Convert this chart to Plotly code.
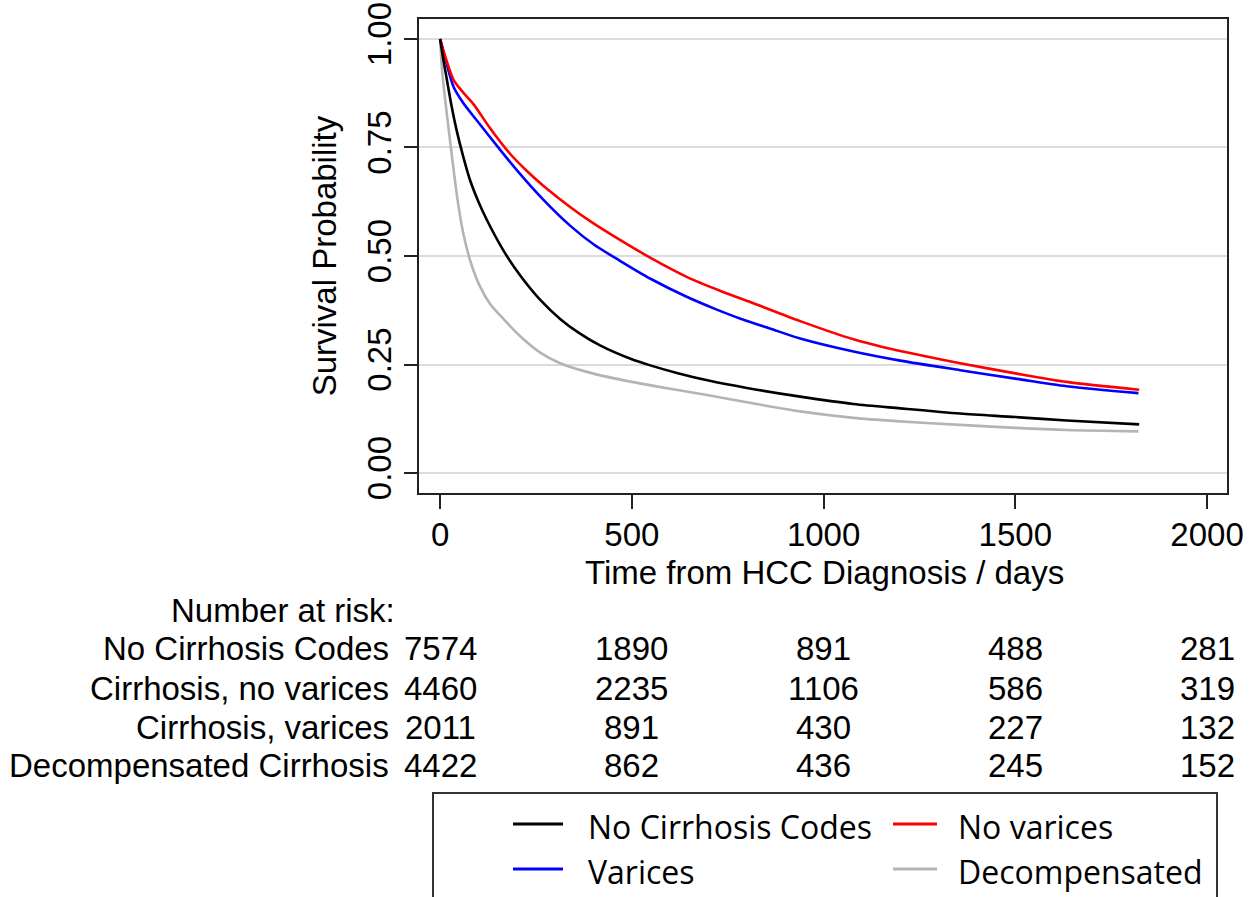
import plotly.graph_objects as go

# Kaplan-Meier survival estimates after HCC diagnosis (days, probability)
t_nocirr = [0, 8, 15, 30, 43, 60, 78, 100, 122, 165, 209, 260, 313, 360, 417, 500, 548, 620, 700, 800, 939, 1078, 1200, 1356, 1500, 1634, 1823]
s_nocirr = [1.0, 0.955, 0.92, 0.845, 0.79, 0.73, 0.675, 0.625, 0.583, 0.513, 0.455, 0.4, 0.355, 0.324, 0.294, 0.262, 0.248, 0.23, 0.213, 0.196, 0.176, 0.159, 0.149, 0.137, 0.129, 0.121, 0.112]

t_novar = [0, 15, 35, 60, 87, 130, 183, 225, 269, 339, 400, 469, 550, 643, 730, 817, 939, 1078, 1156, 1250, 1356, 1504, 1634, 1823]
s_novar = [1.0, 0.955, 0.906, 0.877, 0.85, 0.795, 0.735, 0.697, 0.662, 0.613, 0.575, 0.537, 0.495, 0.452, 0.42, 0.391, 0.35, 0.308, 0.29, 0.272, 0.253, 0.229, 0.21, 0.192]

t_var = [0, 15, 35, 60, 96, 150, 200, 269, 339, 400, 469, 550, 643, 720, 791, 860, 939, 1078, 1200, 1356, 1504, 1634, 1821]
s_var = [1.0, 0.95, 0.89, 0.853, 0.812, 0.752, 0.698, 0.63, 0.57, 0.527, 0.489, 0.447, 0.406, 0.377, 0.353, 0.333, 0.31, 0.28, 0.259, 0.237, 0.217, 0.2, 0.184]

t_decomp = [0, 5, 10, 22, 35, 48, 61, 80, 104, 130, 165, 209, 260, 313, 400, 500, 600, 700, 800, 939, 1078, 1200, 1356, 1500, 1634, 1821]
s_decomp = [1.0, 0.93, 0.885, 0.795, 0.7, 0.615, 0.55, 0.485, 0.43, 0.39, 0.355, 0.315, 0.278, 0.253, 0.229, 0.21, 0.194, 0.179, 0.163, 0.142, 0.127, 0.119, 0.111, 0.104, 0.099, 0.096]

# Number-at-risk table
risk_times = [0, 500, 1000, 1500, 2000]
risk_labels = ["No Cirrhosis Codes", "Cirrhosis, no varices", "Cirrhosis, varices", "Decompensated Cirrhosis"]
risk_nocirr = [7574, 1890, 891, 488, 281]
risk_novar = [4460, 2235, 1106, 586, 319]
risk_var = [2011, 891, 430, 227, 132]
risk_decomp = [4422, 862, 436, 245, 152]

legend_names = ["No Cirrhosis Codes", "No varices", "Varices", "Decompensated"]

W, H = 1258, 897
ML, MR, MT, MB = 419, 31, 19, 404
PW, PH = W - ML - MR, H - MT - MB
FONT = "Liberation Sans, Arial, sans-serif"
LEG_FONT = "Open Sans, Noto Sans, sans-serif"


def px(x):
    return (x - ML) / PW


def py(y):
    return (H - MB - y) / PH


series = [
    (t_nocirr, s_nocirr, "#000000", legend_names[0]),
    (t_novar, s_novar, "#ff0000", legend_names[1]),
    (t_var, s_var, "#0000ff", legend_names[2]),
    (t_decomp, s_decomp, "#b4b4b4", legend_names[3]),
]

fig = go.Figure()
for t, s, c, name in reversed(series):
    fig.add_trace(go.Scatter(
        x=t, y=s, mode="lines", name=name,
        line=dict(color=c, width=2.6, shape="spline", smoothing=0.8),
        showlegend=False,
    ))

annotations = []
shapes = []

# x-axis title
annotations.append(dict(text="Time from HCC Diagnosis / days", xref="paper", yref="paper",
                        x=px(824), y=py(572), xanchor="center", yanchor="middle",
                        showarrow=False, font=dict(family=FONT, size=33, color="black")))

# risk table
annotations.append(dict(text="Number at risk:", xref="paper", yref="paper",
                        x=px(397), y=py(610), xanchor="right", yanchor="middle",
                        showarrow=False, font=dict(family=FONT, size=33, color="black")))
row_y = [648, 688, 727, 765]
rows = [risk_nocirr, risk_novar, risk_var, risk_decomp]
for label, counts, yy in zip(risk_labels, rows, row_y):
    annotations.append(dict(text=label, xref="paper", yref="paper",
                            x=px(391), y=py(yy), xanchor="right", yanchor="middle",
                            showarrow=False, font=dict(family=FONT, size=33, color="black")))
    for tt, n in zip(risk_times, counts):
        annotations.append(dict(text=str(n), xref="x", yref="paper",
                                x=tt, y=py(yy), xanchor="center", yanchor="middle",
                                showarrow=False, font=dict(family=FONT, size=33, color="black")))

# legend box
shapes.append(dict(type="rect", xref="paper", yref="paper",
                   x0=px(433), x1=px(1217), y0=py(915), y1=py(793),
                   line=dict(color="#333333", width=2), fillcolor="white"))
leg_pos = [(513, 563, 586, 824), (893, 937, 956, 824), (513, 563, 586, 869), (893, 937, 956, 869)]
for (x0, x1, xt, yy), (_, _, c, name) in zip(leg_pos, series):
    shapes.append(dict(type="line", xref="paper", yref="paper",
                       x0=px(x0), x1=px(x1), y0=py(yy), y1=py(yy),
                       line=dict(color=c, width=3)))
    annotations.append(dict(text=name, xref="paper", yref="paper",
                            x=px(xt), y=py(yy + 2), xanchor="left", yanchor="middle",
                            showarrow=False, font=dict(family=LEG_FONT, size=32, color="black")))

fig.update_layout(
    width=W, height=H, autosize=False,
    margin=dict(l=ML, r=MR, t=MT, b=MB, pad=0, autoexpand=False),
    paper_bgcolor="white", plot_bgcolor="white",
    annotations=annotations, shapes=shapes,
    font=dict(family=FONT, size=33, color="black"),
)
fig.update_xaxes(
    range=[-55, 2052], tickvals=[0, 500, 1000, 1500, 2000], automargin=False,
    ticks="outside", ticklen=14, tickwidth=2, tickcolor="#222222",
    ticklabelstandoff=-3,
    showline=True, linecolor="#222222", linewidth=2, mirror=True,
    showgrid=False, zeroline=False,
    tickfont=dict(family=FONT, size=33, color="black"),
)
fig.update_yaxes(
    range=[-0.046, 1.046], tickvals=[0, 0.25, 0.5, 0.75, 1.0], automargin=False,
    ticktext=["0.00", "0.25", "0.50", "0.75", "1.00"], tickangle=-90,
    ticks="outside", ticklen=13, tickwidth=2, tickcolor="#222222",
    showline=True, linecolor="#222222", linewidth=2, mirror=True,
    showgrid=True, gridcolor="#dcdcdc", gridwidth=2, zeroline=False,
    tickfont=dict(family=FONT, size=33, color="black"),
    title=dict(text="Survival Probability", standoff=14,
               font=dict(family=FONT, size=33, color="black")),
)

fig.write_html("out.html")
